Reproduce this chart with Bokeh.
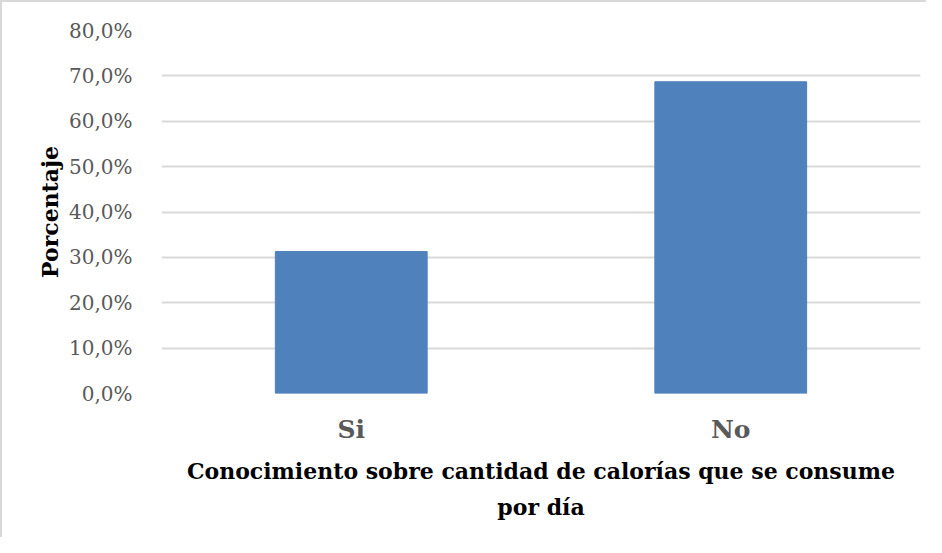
from bokeh.plotting import figure
from bokeh.models import FactorRange, Range1d, CustomJSTickFormatter, FixedTicker, Title
from bokeh.embed import file_html
from bokeh.resources import INLINE

categories = ["Si", "No"]
percentages = [0.313, 0.687]
y_ticks = [0.0, 0.1, 0.2, 0.3, 0.4, 0.5, 0.6, 0.7, 0.8]
x_title_1 = "Conocimiento sobre cantidad de calorías que se consume"
x_title_2 = "por día"
y_title = "Porcentaje"

FONT = "DejaVu Serif"

p = figure(
    x_range=FactorRange(*categories, range_padding=0),
    y_range=Range1d(0, 0.8),
    width=926, height=537,
    output_backend="svg", toolbar_location=None,
    min_border_left=159, min_border_right=8,
    min_border_top=28, min_border_bottom=146,
)
p.styles = {"border-left": "2px solid #d9d9d9", "border-top": "2px solid #d9d9d9"}
p.outline_line_color = None
p.background_fill_color = "white"
p.border_fill_color = "white"

p.vbar(x=categories, top=percentages, width=0.4, color="#4f81bd")

p.xgrid.grid_line_color = None
p.ygrid.grid_line_color = "#d9d9d9"
p.ygrid.grid_line_width = 2

p.yaxis.ticker = FixedTicker(ticks=y_ticks)
p.yaxis.formatter = CustomJSTickFormatter(code="return (tick*100).toFixed(1).replace('.', ',') + '%';")
p.yaxis.axis_line_color = None
p.yaxis.major_tick_line_color = None
p.yaxis.minor_tick_line_color = None
p.yaxis.major_label_text_font = FONT
p.yaxis.major_label_text_font_size = "20px"
p.yaxis.major_label_text_color = "#595959"
p.yaxis.major_label_standoff = 23
p.yaxis.axis_label = y_title
p.yaxis.axis_label_text_font = FONT
p.yaxis.axis_label_text_font_size = "22px"
p.yaxis.axis_label_text_font_style = "bold"
p.yaxis.axis_label_text_color = "black"
p.yaxis.axis_label_standoff = 3

p.xaxis.axis_line_color = None
p.xaxis.major_tick_line_color = None
p.xaxis.minor_tick_line_color = None
p.xaxis.major_label_text_font = FONT
p.xaxis.major_label_text_font_size = "25px"
p.xaxis.major_label_text_font_style = "bold"
p.xaxis.major_label_text_color = "#595959"
p.xaxis.major_label_standoff = 15
p.xaxis.axis_label = x_title_1
p.xaxis.axis_label_text_font = FONT
p.xaxis.axis_label_text_font_size = "22px"
p.xaxis.axis_label_text_font_style = "bold"
p.xaxis.axis_label_text_color = "black"
p.xaxis.axis_label_standoff = 11

t2 = Title(text=x_title_2, align="center", text_font=FONT, text_font_size="22px",
           text_font_style="bold", text_color="black")
p.add_layout(t2, "below")

open("out.html", "w").write(file_html(p, INLINE))
